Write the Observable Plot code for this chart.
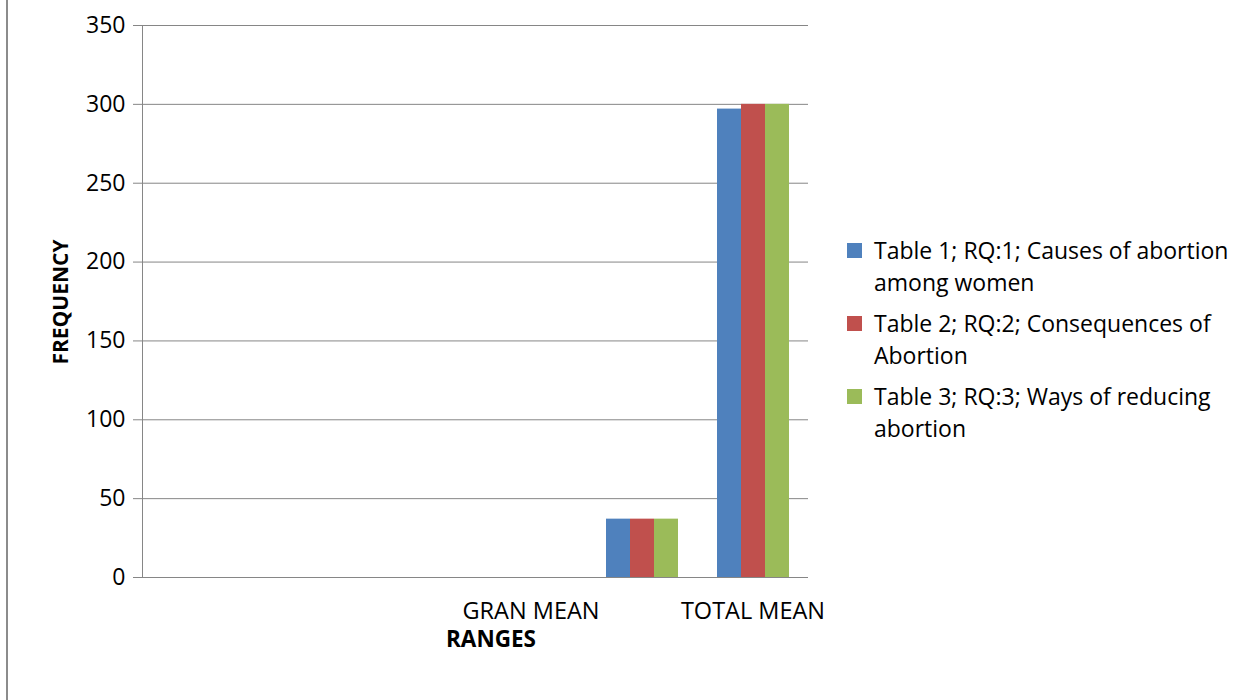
<!DOCTYPE html>
<html>
<head>
<meta charset="utf-8">
<script src="https://cdn.jsdelivr.net/npm/d3@7"></script>
<script src="https://cdn.jsdelivr.net/npm/@observablehq/plot@0.6"></script>
<style>
  body { margin: 0; background: #fff; font-family: "Open Sans", sans-serif; }
  #wrap { position: relative; width: 1250px; height: 700px; overflow: hidden; }
  #frameline { position: absolute; left: 6px; top: 0; width: 2px; height: 700px; background: #8c8c8c; }
  .lbl { position: absolute; font-weight: bold; color: #000; line-height: 1; }
  #ylab { left: 60px; top: 302px; font-size: 21px; transform: translate(-50%, -50%) rotate(-90deg); white-space: nowrap; }
  #xlab { left: 446px; top: 628px; font-size: 22.5px; }
  #legend { position: absolute; left: 847px; top: 234px; width: 403px; font-size: 23px; color: #000; }
  .item { position: relative; padding-left: 27px; line-height: 32px; margin-bottom: 9px; }
  .sw { position: absolute; left: 0; top: 9px; width: 15px; height: 15px; }
</style>
</head>
<body>
<div id="wrap">
  <div id="frameline"></div>
  <div id="chart"></div>
  <div class="lbl" id="ylab">FREQUENCY</div>
  <div class="lbl" id="xlab">RANGES</div>
  <div id="legend"></div>
</div>
<script>
// Data
const categories = ["c1", "c2", "c3", "c4", "c5", "c6"];
const categoryLabels = ["", "", "", "GRAN MEAN", "", "TOTAL MEAN"];
const seriesNames = [
  "Table 1; RQ:1; Causes of abortion among women",
  "Table 2; RQ:2; Consequences of Abortion",
  "Table 3; RQ:3; Ways of reducing abortion"
];
const seriesColors = ["#4F81BD", "#C0504D", "#9BBB59"];
const table1Values = [null, null, null, null, 37, 297];
const table2Values = [null, null, null, null, 37, 300];
const table3Values = [null, null, null, null, 37, 300];
const yTicks = [0, 50, 100, 150, 200, 250, 300, 350];

const seriesValues = [table1Values, table2Values, table3Values];
const rows = [];
categories.forEach((c, i) => {
  seriesNames.forEach((s, j) => rows.push({category: c, series: s, value: seriesValues[j][i]}));
});

const grid = "#868686";
const chart = Plot.plot({
  width: 1250,
  height: 700,
  marginLeft: 142,
  marginRight: 442,
  marginTop: 25,
  marginBottom: 123,
  style: {fontFamily: "'Open Sans', sans-serif", fontSize: "23px", color: "#000", background: "transparent"},
  fx: {domain: categories, paddingInner: 0, paddingOuter: 0, label: null},
  x: {domain: seriesNames, paddingInner: 0, paddingOuter: 0.73, axis: null},
  y: {domain: [0, 350], label: null},
  color: {domain: seriesNames, range: seriesColors},
  marks: [
    Plot.gridY(yTicks, {stroke: grid, strokeOpacity: 1}),
    Plot.barY(rows, {fx: "category", x: "series", y: "value", fill: "series", inset: 0}),
    Plot.ruleY([0], {stroke: grid}),
    Plot.frame({anchor: "left", stroke: grid, facetAnchor: "left"}),
    Plot.axisY(yTicks, {tickSize: 9, tickPadding: 8, stroke: grid, fill: "#000", fontSize: 23, label: null, facetAnchor: "left"}),
    Plot.axisFx({anchor: "bottom", tickSize: 0, tickPadding: 25, fontSize: 23.5, fill: "#000", label: null,
      tickFormat: d => categoryLabels[categories.indexOf(d)]})
  ]
});
document.getElementById("chart").appendChild(chart);

const legend = document.getElementById("legend");
seriesNames.forEach((s, i) => {
  const div = document.createElement("div");
  div.className = "item";
  div.innerHTML = `<span class="sw" style="background:${seriesColors[i]}"></span>`;
  div.appendChild(document.createTextNode(s));
  legend.appendChild(div);
});
</script>
</body>
</html>
